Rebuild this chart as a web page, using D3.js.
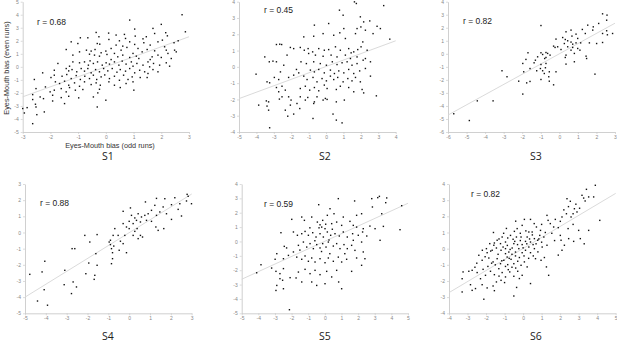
<!DOCTYPE html>
<html><head><meta charset="utf-8">
<script src="https://cdn.jsdelivr.net/npm/d3@7"></script>
<style>body{margin:0;background:#fff}svg{display:block}</style>
</head><body>
<svg id="c" width="617" height="345"></svg>
<script>
// ---- data ----
const panelNames = ["S1","S2","S3","S4","S5","S6"];
const rValues = ["0.68","0.45","0.82","0.88","0.59","0.82"];
const xDomains = [[-3,3],[-5,4],[-6,3],[-5,3],[-5,5],[-4,5]];
const yDomains = [[-5,5],[-4,4],[-6,4],[-5,3],[-5,4],[-4,4]];
// regression line endpoints [x0,y0,x1,y1]
const fitLines = [[-3,-2.3,3,2.31],[-5,-1.95,4,1.6],[-6,-4.7,3,2.35],[-5,-4.0,3,2.38],[-5,-2.63,5,2.66],[-4,-2.72,5,3.42]];
const xLabel = "Eyes-Mouth bias (odd runs)";
const yLabel = "Eyes-Mouth bias (even runs)";

const s1 = [[2.75,4.0],[2.87,2.69],[0.86,3.59],[2.0,3.26],[1.04,2.9],[1.7,2.95],[-0.35,2.64],[0.1,2.59],[1.76,2.56],[2.16,2.62],[0.67,2.49],[0.37,2.44],
[-0.65,2.23],[-0.25,2.31],[1.06,2.36],[1.34,2.15],[1.46,2.31],[2.22,2.38],[0.71,2.18],[0.11,2.1],[-0.92,2.23],
[-1.25,1.92],[-1.01,1.79],[-0.31,1.79],[-0.22,1.74],[0.49,2.0],[0.86,1.92],[1.04,1.72],[1.37,1.85],[1.88,1.92],[2.04,2.05],[2.46,1.85],[2.61,2.0],[0.37,1.67],[0.61,1.59],[1.6,1.67],[2.12,1.54],
[-0.7,1.28],[-0.53,1.21],[-0.39,1.33],[0,1.21],[0.19,1.41],[0.55,1.28],[0.76,1.49],[1.16,1.41],[1.31,1.15],[1.49,1.33],[1.76,1.23],[2.18,1.28],[2.48,1.28],[2.54,1.15],[-1.43,1.33],[-0.95,1.15],[-0.17,1.08],[0.31,1.03],
[-0.59,0.97],[-0.41,0.9],[-0.23,0.82],[0.04,0.95],[0.43,0.77],[0.61,0.9],[0.86,0.72],[0.98,1.03],[1.1,0.82],[1.19,0.64],[1.67,0.77],[1.88,0.9],[2.0,0.72],[2.24,1.03],[2.36,0.64],[1.6,0.56],[-1.19,0.9],[0.19,0.56],
[-1.73,0.26],[-1.31,0.05],[-1.19,0.38],[-0.95,0.31],[-0.77,0.38],[-0.63,0.13],[-0.57,0.46],[-0.45,0.26],[-0.3,0.38],[-0.13,0.13],[0.01,0.31],[0.13,0.21],[0.31,0.38],[0.47,0.13],[0.59,0.44],[0.73,0.21],[0.92,0.38],[0.98,0.05],[1.12,0.26],[1.34,0.13],[1.52,0.38],[1.72,0.26],[1.94,0.13],[2.18,0.31],[2.3,0.05],[1.58,0.0],
[-1.86,-0.26],[-1.43,-0.13],[-1.34,-0.31],[-1.22,-0.21],[-1.05,-0.38],[-0.89,-0.13],[-0.77,-0.33],[-0.65,-0.13],[-0.53,-0.46],[-0.37,-0.21],[-0.23,-0.38],[-0.08,-0.13],[0.07,-0.31],[0.23,-0.13],[0.4,-0.41],[0.52,-0.21],[0.71,-0.33],[0.86,-0.13],[1.04,-0.46],[1.22,-0.26],[1.4,-0.38],[1.7,-0.21],[1.88,-0.38],[1.52,-0.51],
[-2.28,-0.46],[-1.98,-0.82],[-1.86,-0.64],[-1.58,-0.72],[-1.41,-0.59],[-1.25,-0.9],[-1.07,-0.67],[-0.92,-0.97],[-0.76,-0.72],[-0.59,-0.9],[-0.45,-0.64],[-0.33,-0.97],[-0.17,-0.77],[-0.04,-0.62],[0.13,-0.9],[0.31,-0.72],[0.49,-1.03],[0.64,-0.64],[0.8,-0.97],[0.95,-0.77],[1.24,-0.82],[1.49,-0.82],
[-2.58,-0.97],[-1.82,-1.15],[-1.67,-1.28],[-1.49,-1.1],[-1.34,-1.41],[-1.13,-1.23],[-0.95,-1.49],[-0.77,-1.15],[-0.53,-1.36],[-0.35,-1.23],[-0.2,-1.41],[0.11,-1.15],[0.31,-1.41],[0.73,-1.28],[0.98,-1.15],
[-2.52,-1.67],[-2.18,-1.54],[-2.01,-1.92],[-1.86,-1.79],[-1.61,-1.67],[-1.43,-1.92],[-1.31,-1.59],[-1.1,-1.79],[-0.83,-1.74],[-0.23,-1.72],[0.52,-1.59],[1.01,-1.79],[-0.29,-2.0],
[-2.64,-2.13],[-2.37,-2.31],[-2.25,-2.44],[-1.92,-2.18],[-1.61,-2.36],[-1.34,-2.26],[-0.98,-2.38],[-0.45,-2.31],
[-2.64,-2.51],[-1.92,-2.62],[-1.49,-2.82],[0,-2.56],[-2.54,-2.87],[-0.31,-3.08],
[-3.0,-3.2],[-2.52,-3.08],[-2.84,-3.13],[-2.22,-3.46],[-2.49,-3.67],[-2.94,-3.54],[-2.64,-4.36]];

const s2 = [[1.63,3.99],[1.74,3.89],[3.31,3.76],[0.77,3.48],[0.98,3.17],[-0.67,2.56],[0.15,2.66],[1.97,3.07],[2.16,2.76],[2.0,2.45],[2.26,2.25],[2.51,2.82],[2.93,2.49],[3.12,2.35],[2.7,2.04],[1.78,2.35],[1.69,2.04],[1.02,2.35],[0.79,2.09],[-0.17,2.04],[-1.28,1.84],[-0.71,1.88],[0.44,1.94],[1.11,1.74],[2.11,1.53],[3.66,1.7],
[-2.85,1.37],[-2.66,1.39],[-2.55,1.37],[-2.05,1.19],[-1.86,1.12],[-1.48,1.19],[-1.25,1.02],[-1.03,1.12],[-0.77,0.92],[-0.42,1.12],[-0.1,1.02],[0.15,1.06],[0.54,1.23],[0.82,1.02],[1.3,1.12],[1.44,0.86],[1.59,0.92],[1.82,1.06],[2.01,1.23],[2.36,1.02],
[-2.24,0.72],[-1.0,0.82],[-0.61,0.72],[-0.17,0.65],[0.29,0.72],[0.63,0.61],[1.11,0.72],[1.4,0.51],[1.78,0.61],[2.26,0.51],[-3.52,0.61],[-3.26,0.31],[-3.05,0.35],[-2.85,0.31],[-2.43,0.1],[-1.44,0.31],[-1.13,0.2],[-0.71,0.31],[-0.33,0.2],[0.02,0.1],[0.36,0.31],[0.63,0.14],[0.92,0.25],[1.21,0.31],[1.49,0.1],[1.78,0.2],[2.13,0.41],[2.55,0.31],
[-4.02,-0.45],[-2.62,-0.31],[-1.7,-0.16],[-1.57,-0.37],[-0.9,-0.2],[-0.67,-0.31],[-0.42,-0.16],[-0.1,-0.37],[0.25,-0.2],[0.48,-0.41],[0.73,-0.25],[1.02,-0.37],[1.3,-0.16],[1.59,-0.41],[1.93,-0.25],[2.26,-0.1],[2.55,-0.57],
[-3.39,-0.92],[-3.24,-0.98],[-2.97,-0.65],[-2.72,-0.78],[-2.15,-0.65],[-1.86,-0.51],[-1.28,-0.57],[-1.09,-0.78],[-0.75,-0.65],[-0.52,-0.92],[-0.23,-0.72],[0.02,-0.86],[0.25,-0.57],[0.44,-0.78],[0.67,-0.65],[0.98,-0.92],[1.25,-0.72],[1.49,-0.86],[1.69,-0.65],[1.97,-0.92],
[-2.85,-1.27],[-2.53,-1.19],[-2.34,-1.43],[-2.72,-1.53],[-1.48,-1.33],[-1.19,-1.19],[-0.94,-1.43],[-0.67,-1.27],[-0.42,-1.47],[-0.1,-1.12],[0.06,-1.33],[0.59,-1.39],[0.82,-1.19],[1.3,-1.27],[1.59,-1.53],[2.07,-1.39],[2.16,-1.6],
[-3.43,-2.09],[-3.3,-2.15],[-2.68,-1.98],[-2.53,-1.84],[-2.15,-1.84],[-2.01,-2.04],[-1.48,-1.84],[-1.19,-2.04],[-1.05,-1.88],[-0.67,-2.15],[-0.17,-2.04],[-0.04,-1.94],[0.06,-2.0],[0.59,-2.15],[1.05,-2.04],[2.89,-1.78],[-1.67,-2.25],[-0.52,-1.84],
[-3.87,-2.35],[-3.39,-2.41],[-3.3,-2.66],[-2.34,-2.66],[-2.05,-2.35],[-1.51,-2.56],[-0.71,-2.25],[-2.2,-3.03],[-1.86,-2.9],[-0.75,-3.17],[0.4,-2.9],[0.59,-3.27],[0.92,-3.44],[-3.24,-3.74]];

const s3 = [[2.33,3.07],[2.57,2.97],[2.55,2.58],[-0.99,2.17],[1.53,2.2],[2.12,2.33],[1.83,2.07],[1.8,1.82],[2.55,1.77],[2.87,1.56],[1.24,1.87],[0.36,1.69],[0.63,1.82],[0.9,1.51],[1.4,1.56],[2.33,1.56],[2.59,1.46],[-0.18,1.13],[0.18,1.25],[0.32,1.1],[0.45,1.0],[0.63,0.9],[0.72,0.74],[0.9,0.84],[1.15,0.84],[1.62,0.84],[2.01,0.79],[2.33,0.87],[-0.31,0.59],[-0.23,0.49],[-0.09,0.54],[0.45,0.54],[0.09,0.33],[0.63,0.28],[0.72,0.49],[0.99,0.41],[1.11,0.28],[1.44,-0.18],[1.47,-0.36],[0.81,0.03],[0.36,-0.1],[0.32,-0.28],[0.81,-0.61],[0.36,-0.79],[-1.69,0.08],[-0.99,0.08],[-0.9,-0.05],[-0.72,0.1],[-0.63,0.03],[-0.5,-0.1],[-1.17,-0.23],[-1.29,-0.49],[-0.79,-0.36],[-0.72,-0.28],[-1.8,-0.43],[-1.36,-0.69],[-1.97,-0.74],[-0.99,-0.82],[-0.72,-0.74],[-1.58,-1.13],[-1.02,-1.13],[-0.9,-1.3],[-0.75,-1.07],[-0.81,-1.51],[-0.54,-1.38],[-1.22,-1.3],[-0.18,-1.38],[-1.92,-1.38],[-3.09,-1.3],[-2.82,-1.76],[-2.19,-2.1],[-1.76,-2.23],[-1.58,-2.12],[-0.99,-1.97],[-0.57,-1.76],[-0.54,-2.1],[-0.31,-2.38],[-1.97,-3.09],[1.92,-1.56],[-4.42,-3.61],[-3.57,-3.61],[-5.69,-4.6],[-4.85,-5.12],[0.27,0.79],[0.68,1.36],[0.99,1.18]];

const s4 = [[2.78,2.36],[2.83,2.24],[2.75,1.95],[2.99,1.78],[2.19,2.15],[1.71,2.09],[1.31,2.11],[0.78,1.89],[1.23,1.68],[1.63,1.58],[2.03,1.72],[2.43,1.78],[2.35,1.43],[2.51,1.02],[2.03,0.81],[1.79,1.16],[1.47,1.27],[1.31,1.06],[1.07,1.37],[0.91,1.16],[0.75,1.06],[0.59,0.96],[0.83,0.75],[1.07,0.69],[1.28,0.34],[1.66,0.24],[1.39,0.13],[-0.29,1.31],[0.06,1.52],[-0.29,0.55],[-0.13,0.34],[0,0.24],[0.19,0.55],[0.27,0.07],[0.38,0.24],[0.54,-0.18],[0.64,-0.28],[0.43,-0.38],[0.19,-0.18],[-0.21,-0.18],[-0.69,0.24],[-0.77,-0.18],[-0.9,-0.48],[-0.96,-0.59],[-0.9,-0.75],[-0.85,-1.0],[-0.8,-1.25],[-0.74,-0.84],[-0.48,-1.1],[-0.29,-0.69],[-0.13,-1.25],[-0.85,-1.93],[-0.8,-1.62],[-2.13,-0.18],[-1.54,-0.13],[-1.89,-0.59],[-1.6,-1.31],[-2.74,-1.0],[-2.61,-1.0],[-1.94,-1.89],[-1.54,-2.03],[-1.65,-2.65],[-1.68,-2.9],[-2.08,-2.55],[-3.09,-2.34],[-2.69,-3.06],[-2.53,-3.37],[-2.77,-3.78],[-3.12,-3.23],[-4.05,-1.78],[-4.18,-2.44],[-4.77,-2.59],[-4.08,-3.54],[-4.4,-4.24],[-3.92,-4.5],[0.11,1.06],[0.35,0.75],[0.54,0.65],[0.43,1.16],[0.27,0.9],[0,0.69],[-0.42,-0.54],[-0.53,-0.18]];

const s5 = [[3.18,3.05],[3.28,3.14],[3.72,3.03],[3.66,2.7],[2.82,2.98],[2.86,2.4],[1.79,2.82],[0.81,2.98],[-0.37,2.56],[4.62,2.49],[0.31,2.28],[0.55,1.93],[1.11,1.7],[1.91,1.82],[2.21,1.93],[3.42,1.93],[-1.99,1.54],[-1.39,1.7],[-1.23,1.47],[-0.79,1.7],[-0.45,1.35],[-0.29,1.16],[-0.19,1.0],[0.01,0.89],[-0.13,1.47],[0.15,1.82],[0.41,1.24],[0.71,1.35],[1.01,1.12],[1.51,1.4],[1.71,1.12],[1.91,1.0],[2.31,0.89],[2.71,1.07],[3.02,0.89],[3.52,1.05],[4.52,0.82],
[-2.64,0.61],[-1.89,0.66],[-1.65,0.43],[-1.39,0.54],[-1.19,0.7],[-0.99,0.43],[-0.73,0.61],[-0.53,0.31],[-0.29,0.54],[-0.09,0.31],[0.15,0.66],[0.35,0.43],[0.61,0.54],[0.87,0.38],[1.11,0.66],[1.35,0.31],[1.67,0.54],[2.01,0.43],[2.27,0.66],[2.52,0.38],[1.71,0.08],[2.21,-0.04],
[-2.44,-0.34],[-2.3,-0.45],[-1.89,-0.73],[-1.59,-0.27],[-1.29,-0.04],[-1.09,-0.39],[-0.89,-0.15],[-0.69,-0.5],[-0.49,-0.22],[-0.29,-0.45],[-0.13,-0.15],[0.07,-0.39],[0.21,-0.04],[0.51,-0.32],[0.71,-0.15],[0.91,-0.5],[1.15,-0.22],[1.35,-0.5],[1.61,-0.27],[1.81,-0.62],[2.31,-0.73],[3.32,0.08],
[-2.89,-0.85],[-2.99,-1.24],[-2.49,-1.2],[-2.19,-0.97],[-1.69,-1.09],[-1.39,-1.24],[-1.19,-1.01],[-0.99,-1.38],[-0.79,-1.15],[-0.59,-1.43],[-0.29,-1.2],[0.01,-1.48],[0.21,-1.15],[0.51,-1.38],[0.81,-1.09],[1.01,-1.43],[1.31,-1.24],[1.91,-1.15],[2.41,-1.2],[2.21,-1.66],
[-3.84,-1.62],[-4.1,-2.18],[-3.2,-1.85],[-2.94,-2.08],[-2.7,-2.24],[-2.49,-1.89],[-1.59,-2.13],[-1.19,-1.94],[-0.89,-2.24],[-0.59,-2.01],[-0.29,-2.31],[0.11,-2.08],[0.41,-2.47],[0.71,-2.01],[1.61,-2.08],
[-2.7,-2.59],[-2.54,-2.7],[-2.09,-2.52],[-1.73,-2.54],[-1.39,-2.82],[-0.79,-2.82],[-0.49,-3.06],[0.01,-2.94],[0.83,-2.82],[1.01,-3.29],[-2.89,-3.06],[-2.94,-3.41],[-2.49,-3.29],[-2.13,-4.75],
[-0.35,0.95],[0.05,1.2],[0.25,0.1],[-0.6,0.05],[0.45,0.85],[-0.2,-0.7],[0.3,-0.85],[-1.5,-0.6],[1.2,-0.85],[-0.9,0.95]];

const s6 = [[3.9,3.92],[3.42,3.67],[3.18,3.3],[3.27,3.13],[3.54,3.2],[3.81,3.2],[2.37,3.09],[2.55,2.93],[2.77,2.47],[2.91,2.27],[2.7,2.16],[2.59,1.96],[2.34,2.16],[2.1,1.96],[2.01,1.69],[1.74,1.81],[1.47,1.55],[1.65,1.34],[1.29,2.06],[3.0,1.13],[3.54,1.13],[4.14,1.75],[2.43,1.24],[2.46,0.62],[2.73,0.45],[3.09,0.62],[2.01,0.82],[2.05,0.52],[2.23,0.21],[2.1,-0.1],[1.26,-1.13],[1.38,-1.65],[0.4,-2.16],[0.07,1.81],[0.4,1.81],[-0.47,1.07],[-0.32,1.24],[-0.05,1.44],[0.49,1.03],[0.9,0.82],[1.12,0.72],[0.79,0.52],[0.61,0.62],[0.4,0.41],[0.54,0.25],[0.31,0.1],[0.13,0.45],[-0.05,0.25],[-0.36,0.72],[-0.54,0.58],[-0.68,0.82],[-0.83,0.66],[-0.95,0.41],[-1.13,0.72],[-1.22,0.31],[-1.4,0.52],[-1.58,0.21],[-1.8,0.31],[-1.98,0],[-1.94,-0.25],[-1.67,-0.1],[-1.44,0.04],[-1.19,-0.1],[-0.95,0],[-0.77,-0.21],[-0.59,0.04],[-0.41,-0.21],[-0.23,0],[-0.05,-0.25],[0.13,-0.1],[0.4,-0.25],[0.61,0],[1.03,0.1],[1.29,0.21],
[-2.39,-0.41],[-2.21,-0.72],[-1.85,-0.58],[-1.62,-0.82],[-1.4,-0.62],[-1.22,-0.93],[-1.04,-0.72],[-0.83,-0.99],[-0.65,-0.66],[-0.5,-0.93],[-0.29,-0.78],[-0.11,-1.03],[0.07,-0.82],[0.22,-1.13],[0.67,-0.62],[0.97,-0.72],[-0.41,-0.45],
[-2.93,-1.4],[-3.24,-1.44],[-2.75,-1.34],[-2.48,-1.48],[-2.16,-1.28],[-2.03,-1.65],[-1.76,-1.4],[-1.55,-1.61],[-1.31,-1.24],[-1.13,-1.48],[-0.95,-1.75],[-0.72,-1.44],[-0.5,-1.71],[-0.29,-1.4],[-0.05,-1.65],[-2.3,-1.86],[-1.44,-2.06],[-1.19,-1.96],[-3.29,-1.86],[-2.84,-2.23],[-2.57,-2.47],[-2.21,-2.23],[-1.94,-2.43],[-1.62,-2.31],[-2.75,-2.58],[-3.29,-2.68],[-2.12,-3.13],[-0.5,-2.93],
[-0.86,-0.52],[-1.08,0.1],[-0.95,-0.31],[-0.5,0.31],[-0.11,0.72],[0.22,0.72],[0.31,1.03],[0.72,1.34],[0.94,1.13],
[-1.75,-0.15],[-1.55,0.35],[-1.3,0.6],[-1.05,0.95],[-0.85,0.2],[-0.7,-0.05],[-0.6,-0.35],[-0.45,0.45],[-0.3,0.25],[-0.15,0.5],[0.0,0.05],[0.2,0.3],[0.35,0.6],[0.5,0.85],[0.7,0.3],[0.85,0.6],[1.0,0.4],[0.55,-0.45],[0.3,-0.6],[0.05,-0.45],[-0.2,-0.55],[-0.75,-0.6],[-0.95,-1.1],[-1.15,-0.75],[-1.35,-0.35],[-1.5,-1.0],[-1.7,-0.9],[-1.9,-1.1],[-2.05,-0.5],[-2.2,-0.1],[-2.5,-0.9],[-2.6,-1.15],[-1.3,-1.7],[-0.8,-1.3],[-0.6,-1.15],[-0.4,-1.2],[-0.2,-1.85],[-1.0,-2.1],[-1.55,-2.6],[-0.35,-2.4],[-0.15,0.95],[0.15,1.1],[0.6,1.55],[1.0,1.5],[1.2,1.0],[1.55,0.95],[1.7,0.5],[1.9,1.3],[1.35,1.75],[2.2,2.4],[2.45,2.6],[2.85,2.75],[3.05,2.5],[3.35,2.95],[2.7,1.5],[3.3,0.3],[1.9,-0.4],[0.8,-0.2],[1.15,-0.55],[-0.9,1.25],[-0.4,1.7],[-1.6,1.0]];

const series = [s1,s2,s3,s4,s5,s6];

// ---- layout ----
const layout = [
  {x:[22.7,189],  y:[132,1.7],   rPos:[37,25],   tPos:[108,160]},
  {x:[239,395.7], y:[132,1.7],   rPos:[264,13],  tPos:[325,160]},
  {x:[448,615],   y:[132,1.7],   rPos:[463,24],  tPos:[536,160]},
  {x:[25,191.7],  y:[313.3,184], rPos:[40,206],  tPos:[108,340]},
  {x:[241.7,408], y:[313.3,184], rPos:[264,207], tPos:[325,340]},
  {x:[449,615.7], y:[313.3,184], rPos:[471,197], tPos:[536,340]}
];

const svg = d3.select("#c");
const FONT = "'Liberation Sans', Arial, sans-serif";

series.forEach((pts, i) => {
  const L = layout[i];
  const xs = d3.scaleLinear().domain(xDomains[i]).range(L.x);
  const ys = d3.scaleLinear().domain(yDomains[i]).range(L.y);
  const g = svg.append("g");

  const xt = d3.range(xDomains[i][0], xDomains[i][1] + 1);
  const yt = d3.range(yDomains[i][0], yDomains[i][1] + 1);

  const ax = g.append("g").attr("transform", `translate(0,${L.y[0]})`)
    .call(d3.axisBottom(xs).tickValues(xt).tickSize(2).tickSizeOuter(0).tickFormat(d => String(d)));
  const ay = g.append("g").attr("transform", `translate(${L.x[0]},0)`)
    .call(d3.axisLeft(ys).tickValues(yt).tickSize(2).tickSizeOuter(0).tickFormat(d => String(d)));
  [ax, ay].forEach(a => {
    a.select(".domain").attr("stroke", "#c4c4c4").attr("stroke-width", 0.8);
    a.selectAll(".tick line").attr("stroke", "#c4c4c4").attr("stroke-width", 0.6);
    a.selectAll(".tick text").attr("fill", "#888").style("font-size", "5px").style("font-family", FONT);
  });
  ax.selectAll(".tick text").attr("dy", "0.9em").attr("y", 2);
  ay.selectAll(".tick text").attr("x", -4);

  const f = fitLines[i];
  g.append("line")
    .attr("x1", xs(f[0])).attr("y1", ys(f[1]))
    .attr("x2", xs(f[2])).attr("y2", ys(f[3]))
    .attr("stroke", "#d6d6d6").attr("stroke-width", 0.9);

  g.append("g").selectAll("rect").data(pts).join("rect")
    .attr("x", d => xs(d[0]) - 0.7).attr("y", d => ys(d[1]) - 0.7)
    .attr("width", 1.4).attr("height", 1.4).attr("fill", "#111");

  g.append("text").attr("x", L.rPos[0]).attr("y", L.rPos[1])
    .style("font-family", FONT).style("font-size", "8.5px").attr("fill", "#222")
    .text("r = " + rValues[i]);

  g.append("text").attr("x", L.tPos[0]).attr("y", L.tPos[1]).attr("text-anchor", "middle")
    .style("font-family", "'Open Sans', 'Liberation Sans', sans-serif").style("font-size", "10.5px").attr("fill", "#222")
    .text(panelNames[i]);
});

svg.append("text").attr("x", 110).attr("y", 148).attr("text-anchor", "middle")
  .style("font-family", FONT).style("font-size", "7.3px").attr("fill", "#333").text(xLabel);
svg.append("text").attr("transform", "translate(8.5,68) rotate(-90)").attr("text-anchor", "middle")
  .style("font-family", FONT).style("font-size", "7.3px").attr("fill", "#333").text(yLabel);
</script>
</body></html>
